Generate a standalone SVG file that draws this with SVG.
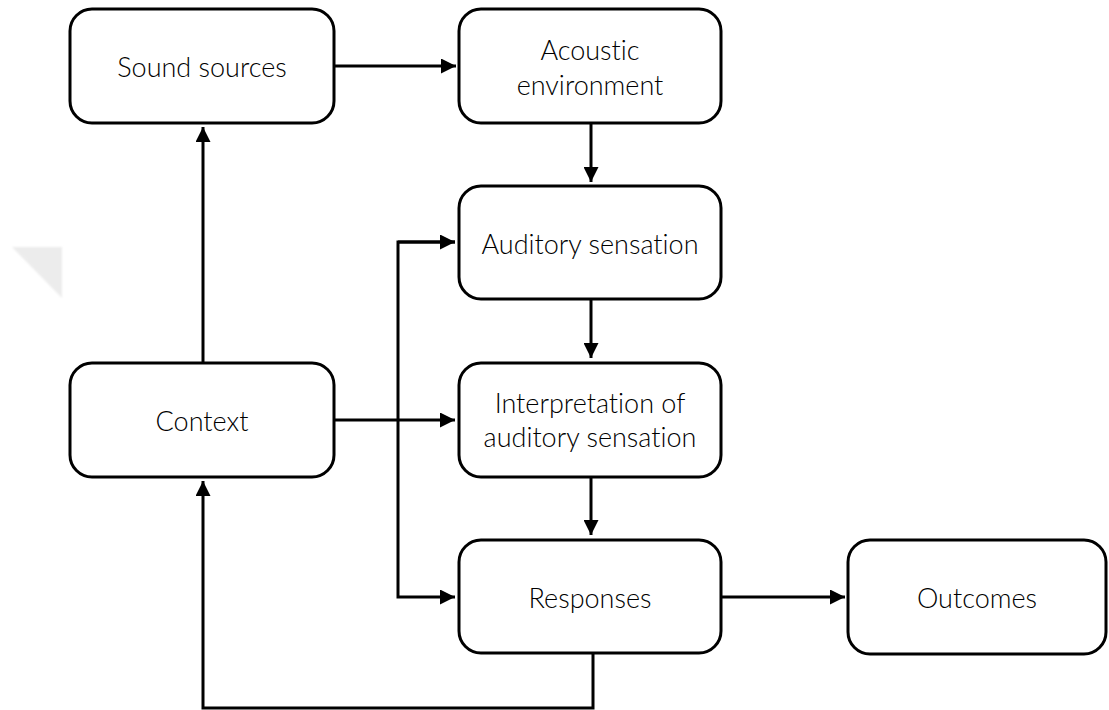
<svg xmlns="http://www.w3.org/2000/svg" width="1109" height="710" viewBox="0 0 1109 710">
  <style>
    .box { fill: #ffffff; stroke: #000000; stroke-width: 3; }
    .lbl { font-family: Lato, "Liberation Sans", sans-serif; font-size: 27px; font-weight: 300; font-variant-ligatures: none; fill: #000000; text-anchor: middle; dominant-baseline: central; }
    .wire { fill: none; stroke: #000000; stroke-width: 3; }
  </style>
  <defs>
    <marker id="head" viewBox="0 0 10 10" refX="10" refY="5" markerWidth="5" markerHeight="5" markerUnits="strokeWidth" orient="auto">
      <path d="M0,0 L10,5 L0,10 z" fill="#000000"/>
    </marker>
    <filter id="soft" x="-20%" y="-20%" width="140%" height="140%">
      <feGaussianBlur stdDeviation="1"/>
    </filter>
  </defs>

  <rect width="1109" height="710" fill="#ffffff"/>

  <!-- faint decorative wedge on the left edge -->
  <polygon points="12,247 62,247 62,298" fill="#ececec" filter="url(#soft)"/>

  <g id="connectors">
    <line class="wire" x1="334" y1="66" x2="456" y2="66" marker-end="url(#head)"/>
    <line class="wire" x1="203" y1="363" x2="203" y2="127" marker-end="url(#head)"/>
    <line class="wire" x1="591" y1="123" x2="591" y2="182" marker-end="url(#head)"/>
    <line class="wire" x1="591" y1="299" x2="591" y2="358" marker-end="url(#head)"/>
    <line class="wire" x1="591" y1="477" x2="591" y2="535" marker-end="url(#head)"/>
    <line class="wire" x1="334" y1="420" x2="455" y2="420" marker-end="url(#head)"/>
    <polyline class="wire" points="455,242 398,242 398,597 455,597" marker-end="url(#head)"/>
    <path class="wire" d="M398,242 L455,242" marker-end="url(#head)"/>
    <line class="wire" x1="721" y1="597" x2="845" y2="597" marker-end="url(#head)"/>
    <polyline class="wire" points="593,653 593,708 203,708 203,481" marker-end="url(#head)"/>
  </g>

  <g id="sound-sources">
    <rect class="box" x="70" y="9" width="264" height="114" rx="22"/>
    <text class="lbl" x="202" y="66">Sound sources</text>
  </g>

  <g id="acoustic-environment">
    <rect class="box" x="459" y="9" width="262" height="114" rx="22"/>
    <text class="lbl" x="590" y="49">Acoustic</text>
    <text class="lbl" x="590" y="84">environment</text>
  </g>

  <g id="auditory-sensation">
    <rect class="box" x="459" y="186" width="262" height="113" rx="22"/>
    <text class="lbl" x="590" y="243">Auditory sensation</text>
  </g>

  <g id="interpretation">
    <rect class="box" x="459" y="363" width="262" height="114" rx="22"/>
    <text class="lbl" x="590" y="402">Interpretation of</text>
    <text class="lbl" x="590" y="436">auditory sensation</text>
  </g>

  <g id="context">
    <rect class="box" x="70" y="363" width="264" height="114" rx="22"/>
    <text class="lbl" x="202" y="420">Context</text>
  </g>

  <g id="responses">
    <rect class="box" x="459" y="540" width="262" height="113" rx="22"/>
    <text class="lbl" x="590" y="597">Responses</text>
  </g>

  <g id="outcomes">
    <rect class="box" x="848" y="540" width="258" height="114" rx="22"/>
    <text class="lbl" x="977" y="597">Outcomes</text>
  </g>
</svg>
